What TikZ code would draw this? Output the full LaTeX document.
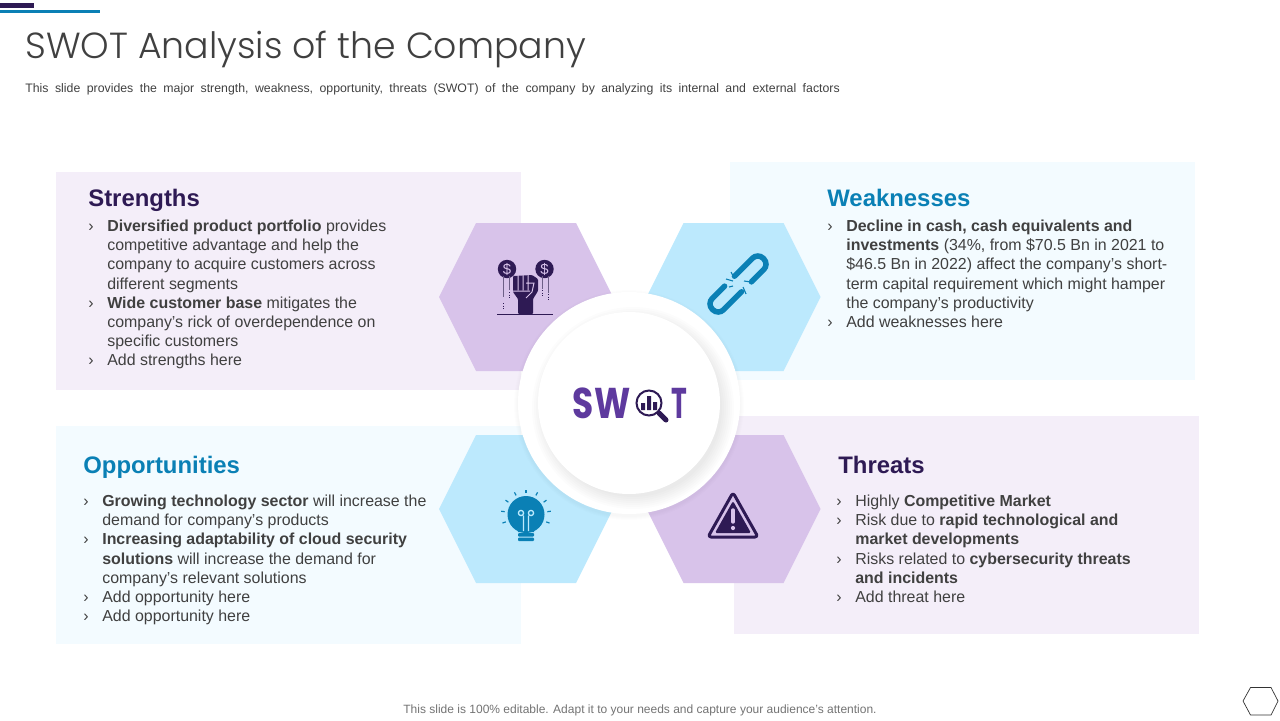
\documentclass[tikz,border=0pt]{standalone}
\usepackage{fontspec}
\setmainfont{Liberation Sans}
\newfontfamily\titlefont[UprightFont=* Light]{Poppins}
\newfontfamily\logofont[FakeStretch=0.8]{Poppins}
\newfontfamily\logotfont[FakeStretch=0.62]{Poppins}
\definecolor{darkpurple}{HTML}{2E1A54}
\definecolor{logopurple}{HTML}{5E3A9E}
\definecolor{swotblue}{HTML}{0A80B5}
\definecolor{lilac}{HTML}{D8C3EA}
\definecolor{skyblue}{HTML}{BCE9FD}
\definecolor{palepurple}{HTML}{F4EEF9}
\definecolor{paleblue}{HTML}{F3FBFF}
\definecolor{bodygray}{HTML}{404040}
\def\px{0.02cm}
\newcommand{\bul}{\makebox[10.8pt][l]{›}}
\newcommand{\ind}{\makebox[10.8pt][l]{}}
\tikzset{
  panel/.style={anchor=north west,inner sep=0,minimum width=464.5*\px,minimum height=218*\px},
  heading/.style={anchor=base west,inner sep=0,font=\fontsize{13.6}{16}\selectfont\bfseries},
  bodytext/.style={anchor=north west,inner sep=0,align=left,text=bodygray,font=\fontsize{9.07}{10.87}\selectfont},
  logotext/.style={anchor=base west,inner sep=0,text=logopurple,font=\bfseries},
}
\begin{document}
\begin{tikzpicture}[x=\px,y=-\px]
\useasboundingbox (0,0) rectangle (1280,720);
\fill[darkpurple] (0,3) rectangle (34,8);
\fill[swotblue] (0,10) rectangle (100,13);
\node[anchor=west,inner sep=0,text=bodygray,font=\titlefont\fontsize{20.65}{24}\selectfont](title) at (25,49.5){SWOT Analysis of the Company};
\node[anchor=west,inner sep=0,text=bodygray,font=\fontsize{7}{8}\selectfont](subtitle) at (25,89){\spaceskip=3.7pt\relax This slide provides the major strength, weakness, opportunity, threats (SWOT) of the company by analyzing its internal and external factors};
% panels
\node[panel,fill=palepurple](pS) at (56,172){};
\node[panel,fill=paleblue](pW) at (730,162){};
\node[panel,fill=paleblue](pO) at (56,426){};
\node[panel,fill=palepurple](pT) at (734,416){};
% hexagons
\foreach \cx/\cy/\col in {526/297/lilac,733.5/297/skyblue,526/509/skyblue,733.5/509/lilac}
  \fill[\col] (\cx-87,\cy)--++(37,-74)--++(100,0)--++(37,74)--++(-37,74)--++(-100,0)--cycle;
% headings
\node[heading,text=darkpurple](tS) at (88,206){Strengths};
\node[heading,text=swotblue](tW) at (827,206){Weaknesses};
\node[heading,text=swotblue](tO) at (83,473){Opportunities};
\node[heading,text=darkpurple](tT) at (838,473){Threats};
% lists
\node[bodytext](lS) at (88,218){\strut\bul\textbf{Diversified product portfolio} provides\\
\ind competitive advantage and help the\\
\ind company to acquire customers across\\
\ind different segments\\
\bul\textbf{Wide customer base} mitigates the\\
\ind company’s rick of overdependence on\\
\ind specific customers\\
\bul Add strengths here};
\node[bodytext](lW) at (827,218){\strut\bul\textbf{Decline in cash, cash equivalents and}\\
\ind\textbf{investments} (34\%, from \$70.5 Bn in 2021 to\\
\ind\$46.5 Bn in 2022) affect the company’s short-\\
\ind term capital requirement which might hamper\\
\ind the company’s productivity\\
\bul Add weaknesses here};
\node[bodytext](lO) at (83,493){\strut\bul\textbf{Growing technology sector} will increase the\\
\ind demand for company’s products\\
\bul\textbf{Increasing adaptability of cloud security}\\
\ind\textbf{solutions} will increase the demand for\\
\ind company’s relevant solutions\\
\bul Add opportunity here\\
\bul Add opportunity here};
\node[bodytext](lT) at (836,493){\strut\bul Highly \textbf{Competitive Market}\\
\bul Risk due to \textbf{rapid technological and}\\
\ind\textbf{market developments}\\
\bul Risks related to \textbf{cybersecurity threats}\\
\ind\textbf{and incidents}\\
\bul Add threat here};
% centre circle
\foreach \r in {115,114,113,112}
  \fill[black,opacity=.009] (629,405) circle[radius=\r];
\node[circle,fill=white,inner sep=0,minimum size=222*\px](ring) at (629,403){};
\foreach \r in {101,99,97,95,93,91,89}
  \fill[black,opacity=.012] (633,408) circle[radius=\r];
\node[circle,fill=white,inner sep=0,minimum size=182*\px](disc) at (629,403){};
% logo
\node[logotext,font=\logofont\bfseries\fontsize{24.5}{28}\selectfont](logoSW) at (572.5,418){SW};
\node[logotext,font=\logotfont\bfseries\fontsize{24.5}{28}\selectfont](logoT) at (671.5,418){T};
\draw[darkpurple,line width=2*\px,fill=white] (649,403) circle[radius=12.5];
\draw[darkpurple,line width=5*\px,line cap=round] (659,413)--(666,420);
\fill[darkpurple] (641,410) rectangle (645,403) (647,410) rectangle (651,396) (653,410) rectangle (657,402);
% fist icon
\fill[darkpurple] (507,269) circle[radius=9.2] (544.5,269) circle[radius=9.2];
\node[text=lilac,inner sep=0,font=\fontsize{8.5}{9}\selectfont](coinA) at (507,269){\$};
\node[text=lilac,inner sep=0,font=\fontsize{8.5}{9}\selectfont](coinB) at (544.5,269){\$};
\foreach \x/\yb in {503/297,509/290,542/289,548/293}
  \draw[darkpurple!70,line width=.9*\px] (\x,276)--(\x,\yb);
\foreach \x/\yb in {503/309,509/298,542/296,548/300}
  \draw[darkpurple,line width=.9*\px,densely dotted] (\x,\yb-6)--(\x,\yb);
\draw[darkpurple,line width=1*\px] (497,314.5)--(553,314.5);
\fill[darkpurple,rounded corners=1*\px] (518,314)--(518,299)--(513,292)--(513,276)--(532,275)--(538,279)--(538,291)--(533,299)--(533,314)--cycle;
\draw[lilac,line width=1*\px] (518,274)--(518,290) (523,274)--(523,290) (528,274)--(528,290) (513,291)--(530,291) (526,283)--(534,283)--(532,292)--(526,298);
% chain icon
\begin{scope}[shift={(738,284)},rotate=45]
\draw[swotblue,line width=5.5*\px,rounded corners=7.5*\px,line cap=round] (3,-8)--(36,-8)--(36,8)--(11,8);
\draw[swotblue,line width=5.5*\px,rounded corners=7.5*\px,line cap=round] (-3,8)--(-36,8)--(-36,-8)--(-11,-8);
\end{scope}
\draw[swotblue,line width=1.1*\px] (726,279)--(733,281) (731,272)--(734,278) (743,287)--(746,294) (744,281)--(751,282) (729,287)--(733,286);
% bulb icon
\fill[swotblue] (526,514.5) circle[radius=18.5];
\fill[swotblue] (517,526)--(535,526)--(534,532)--(518,532)--cycle;
\fill[swotblue,rounded corners=1*\px] (518,533) rectangle (534,536.5) (518,537.5) rectangle (534,541);
\begin{scope}[shift={(526,514.5)}]
\foreach \a in {160,187.5,...,380}
  \draw[swotblue,line width=1.2*\px] (\a:21.5)--(\a:25);
\end{scope}
\draw[skyblue,line width=1.3*\px] (521,513) circle[radius=2.6] (531,513) circle[radius=2.6] (523.5,515.5)--(523.5,531) (528.5,515.5)--(528.5,531);
% warning icon
\draw[darkpurple,line width=3*\px,line join=round,rounded corners=3*\px] (733,492.5)--(758,537)--(708,537)--cycle;
\fill[darkpurple,rounded corners=1.5*\px] (733,501)--(751,533)--(715,533)--cycle;
\draw[lilac,line width=3.4*\px,line cap=round] (733,510)--(733,522);
\fill[lilac] (733,528) circle[radius=2.1];
% footer
\node[text=black!55,inner sep=0,font=\fontsize{6.83}{8}\selectfont](footer) at (640,710){This slide is 100\% editable. Adapt it to your needs and capture your audience’s attention.};
\draw[black!80,line width=.7*\px] (1243,701)--(1250.5,687.5)--(1271,687.5)--(1278,701)--(1271,715)--(1250.5,715)--cycle;
\end{tikzpicture}
\end{document}
